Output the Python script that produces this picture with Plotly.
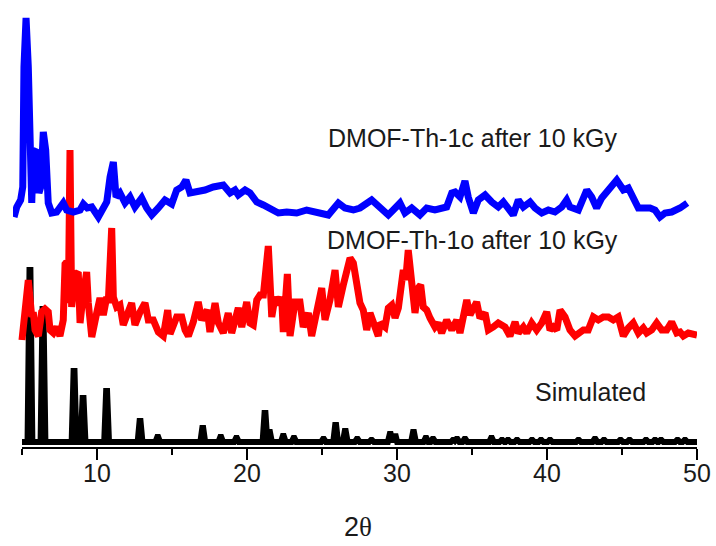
import plotly.graph_objects as go

# ---- DMOF-Th-1c after 10 kGy (measured pattern, a.u.) ----
two_theta_1c = [4.47, 4.65, 4.91, 5.05, 5.13, 5.27, 5.42, 5.53, 5.65, 5.75, 5.98, 6.13, 6.25,
                6.42, 6.58, 6.75, 6.98, 7.31, 7.53, 7.75, 7.98, 8.42, 8.87, 9.09, 9.35, 9.65,
                10.09, 10.42, 10.65, 10.87, 11.09, 11.27, 11.53, 11.87, 12.20, 12.53, 12.98,
                13.31, 13.65, 14.09, 14.53, 14.98, 15.31, 15.65, 15.93, 16.20, 16.65, 17.20,
                17.75, 18.42, 18.87, 19.20, 19.42, 19.87, 20.20, 20.65, 21.09, 21.65, 22.09,
                22.65, 23.31, 23.98, 24.65, 25.42, 26.09, 26.53, 27.09, 27.53, 28.31, 28.87,
                29.42, 29.75, 30.20, 30.53, 30.98, 31.53, 31.98, 32.53, 33.31, 33.65, 33.87,
                34.20, 34.53, 34.75, 35.09, 35.42, 35.87, 36.31, 36.75, 37.09, 37.42, 37.75,
                38.09, 38.42, 38.87, 39.20, 39.65, 40.09, 40.53, 40.98, 41.31, 41.53, 42.09,
                42.42, 42.65, 42.98, 43.31, 43.65, 43.98, 44.31, 44.65, 44.87, 45.09, 45.42,
                45.75, 46.09, 46.42, 46.87, 47.20, 47.53, 47.87, 48.31, 48.87, 49.20, 49.35]
counts_1c = [-2, 8, 15, 28, 148, 197, 148, 22, 12, 62, 65, 22, 28,
             83, 65, 12, 2, 3, 7, 12, 5, 3, 5, 11, 7, 8,
             -2, 7, 13, 38, 53, 18, 22, 12, 18, 8, 17,
             7, 0, 7, 15, 11, 25, 28, 35, 22, 23, 25,
             28, 30, 22, 25, 20, 25, 22, 13, 10, 5, 2,
             3, 2, 5, 3, 0, 12, 7, 5, 7, 15, 8,
             0, 5, 12, 2, 7, 0, 7, 5, 8, 22, 23,
             18, 34, 18, 2, 15, 20, 13, 8, 13, 7, 0,
             15, 8, 13, 7, 2, 5, 3, 8, 15, 8, 5,
             18, 25, 18, 7, 17, 23, 27, 35, 30, 25, 27,
             15, 7, 7, 7, 5, -2, 2, 3, 7, 12, 12]

# ---- DMOF-Th-1o after 10 kGy (measured pattern, a.u.) ----
two_theta_1o = [5.00, 5.07, 5.27, 5.42, 5.65, 5.75, 5.87, 6.09, 6.31, 6.53, 6.75, 6.87, 7.09,
                7.31, 7.53, 7.75, 7.87, 7.98, 8.09, 8.20, 8.31, 8.53, 8.75, 8.87, 9.09, 9.31,
                9.42, 9.65, 9.98, 10.20, 10.42, 10.65, 10.75, 10.98, 11.09, 11.31, 11.53, 11.75,
                12.31, 12.53, 12.87, 13.20, 13.42, 13.75, 14.09, 14.42, 14.71, 14.87, 15.31,
                15.65, 15.87, 16.09, 16.42, 16.75, 16.98, 17.35, 17.53, 17.87, 18.09, 18.42,
                18.75, 18.98, 19.42, 19.65, 19.98, 20.20, 20.42, 20.65, 20.87, 21.09, 21.42,
                21.65, 21.87, 22.09, 22.31, 22.42, 22.69, 22.87, 23.20, 23.53, 23.75, 24.09,
                24.31, 24.65, 24.98, 25.20, 25.53, 25.87, 26.09, 26.42, 26.87, 27.09, 27.31,
                27.53, 27.75, 27.98, 28.20, 28.53, 28.75, 28.87, 29.20, 29.42, 29.65, 29.87,
                30.09, 30.42, 30.58, 30.75, 30.98, 31.20, 31.42, 31.58, 31.75, 31.98, 32.20,
                32.53, 32.75, 32.98, 33.31, 33.65, 33.98, 34.20, 34.65, 34.87, 35.31, 35.53,
                35.87, 36.09, 36.42, 36.75, 37.20, 37.53, 37.87, 38.09, 38.42, 38.65, 38.98,
                39.31, 39.65, 39.98, 40.20, 40.42, 40.65, 40.87, 41.20, 41.53, 41.87, 42.09,
                42.42, 42.75, 43.09, 43.42, 43.75, 44.09, 44.42, 44.75, 45.09, 45.42, 45.75,
                46.09, 46.42, 46.65, 46.98, 47.31, 47.65, 47.98, 48.31, 48.65, 48.87, 49.09,
                49.42, 50.00]
counts_1o = [0, 12, 48, 60, 23, 28, 10, 4, 28, 31, 28, 10, 7,
             13, 4, 20, 76, 78, 37, 190, 33, 65, 68, 17, 47, 68,
             37, 3, 27, 42, 25, 43, 37, 112, 43, 33, 35, 15,
             37, 15, 28, 37, 20, 20, 8, 4, 30, 6, 23,
             23, 10, 4, 18, 38, 20, 30, 8, 37, 17, 7,
             27, 7, 32, 13, 38, 17, 15, 40, 45, 45, 94,
             23, 43, 35, 43, 8, 66, 4, 38, 38, 13, 27,
             4, 27, 52, 20, 40, 70, 33, 55, 82, 77, 57,
             37, 30, 10, 27, 10, 4, 17, 13, 32, 35, 22,
             32, 70, 60, 90, 47, 27, 52, 55, 33, 30, 22,
             13, 17, 7, 20, 10, 20, 7, 40, 25, 38, 22,
             27, 10, 13, 17, 13, 4, 18, 7, 13, 7, 17,
             10, 17, 28, 10, 13, 10, 30, 23, 10, 4, 7,
             10, 10, 23, 20, 23, 23, 20, 23, 4, 12, 17,
             7, 12, 7, 10, 17, 10, 10, 18, 7, 8, 4,
             7, 5]

# ---- Simulated pattern: reflection positions (2theta) and intensities (a.u.) ----
sim_peak_pos = [5.53, 6.40, 8.47, 9.07, 10.64, 12.87, 14.05, 17.05, 18.25, 19.30, 20.20,
                21.20, 21.50, 22.42, 23.13, 24.20, 25.10, 25.91, 26.55, 27.35, 28.30,
                29.55, 29.85, 31.10, 31.93, 32.40, 33.75, 34.00, 34.53, 35.40, 36.30,
                37.00, 37.40, 38.00, 38.60, 39.00, 39.60, 40.20, 40.80, 41.30, 42.10,
                42.50, 43.20, 43.80, 44.40, 44.90, 45.50, 46.00, 46.60, 47.20, 47.60,
                48.20, 48.70, 49.20, 49.70]
sim_peak_int = [172, 133, 71, 44, 51, 21, 5, 14, 5, 4, 1,
                29, 10, 6, 4, 1, 3, 17, 11, 3, 2,
                8, 8, 10, 4, 3, 2, 3, 3, 1, 4,
                2, 2, 2, 1, 2, 2, 2, 1, 1, 2,
                1, 3, 2, 1, 2, 2, 1, 2, 2, 2,
                1, 2, 2, 1]

x_tick_values = [10, 20, 30, 40, 50]
x_minor_values = [5, 15, 25, 35, 45]

# vertical stacking offsets for the three patterns
OFFSET_SIM, OFFSET_1O, OFFSET_1C = 6, 108, 233
PEAK_BASE_HALF = 0.16   # half width of a reflection at its foot
PEAK_TOP_HALF = 0.03    # half width of the flat top
X_RANGE = [4.4, 50.0]

# bar-like profile for the simulated reflections
sim_x, sim_y = [5.0], [0]
for pos, inten in zip(sim_peak_pos, sim_peak_int):
    sim_x += [pos - PEAK_BASE_HALF, pos - PEAK_TOP_HALF, pos + PEAK_TOP_HALF, pos + PEAK_BASE_HALF]
    sim_y += [0, inten, inten, 0]
sim_x.append(50.0)
sim_y.append(0)

fig = go.Figure()
fig.add_trace(go.Scatter(
    x=sim_x, y=[v + OFFSET_SIM for v in sim_y], mode="lines",
    line=dict(color="#000000", width=6), name="Simulated"))
fig.add_trace(go.Scatter(
    x=two_theta_1o, y=[v + OFFSET_1O for v in counts_1o], mode="lines",
    line=dict(color="#FF0000", width=7), name="DMOF-Th-1o after 10 kGy"))
fig.add_trace(go.Scatter(
    x=two_theta_1c, y=[v + OFFSET_1C for v in counts_1c], mode="lines",
    line=dict(color="#0000FF", width=7), name="DMOF-Th-1c after 10 kGy"))

text_family = "Liberation Sans, Arial, sans-serif"
label_font = dict(family=text_family, size=25, color="#1a1a1a")
for text, x, y in [("DMOF-Th-1c after 10 kGy", 35.0, 310),
                   ("DMOF-Th-1o after 10 kGy", 35.0, 208),
                   ("Simulated", 42.93, 56)]:
    fig.add_annotation(x=x, y=y, xref="x", yref="y", text=text, showarrow=False,
                       font=label_font, xanchor="center", yanchor="middle")

# tick labels under the axis
for v in x_tick_values:
    fig.add_annotation(x=v, y=-0.056, xref="x", yref="paper", text=str(v), showarrow=False,
                       font=label_font, xanchor="center", yanchor="middle")

# x-axis title
fig.add_annotation(
    x=(27.4 - X_RANGE[0]) / (X_RANGE[1] - X_RANGE[0]), y=-0.176,
    xref="paper", yref="paper", showarrow=False, xanchor="center", yanchor="middle",
    text="2<span style='font-family:Liberation Serif, serif'>θ</span>",
    font=dict(family=text_family, size=27, color="#1a1a1a"))

# axis baseline spanning 5-50 degrees
fig.add_shape(type="line", xref="paper", yref="paper",
              x0=(5.0 - X_RANGE[0]) / (X_RANGE[1] - X_RANGE[0]), x1=1.0, y0=0, y1=0,
              line=dict(color="#000000", width=2))

fig.update_layout(
    width=716, height=546,
    margin=dict(l=13, r=19, t=0, b=98),
    paper_bgcolor="white", plot_bgcolor="white",
    showlegend=False,
    xaxis=dict(range=X_RANGE, tickvals=x_tick_values, ticks="outside",
               ticklen=11, tickwidth=2, tickcolor="#000000", showticklabels=False,
               showline=False, showgrid=False, zeroline=False,
               minor=dict(tickvals=x_minor_values, ticks="outside", ticklen=6,
                          tickwidth=2, tickcolor="#000000", showgrid=False)),
    yaxis=dict(range=[0, 448], visible=False, fixedrange=True),
)

fig.write_html("out.html")
